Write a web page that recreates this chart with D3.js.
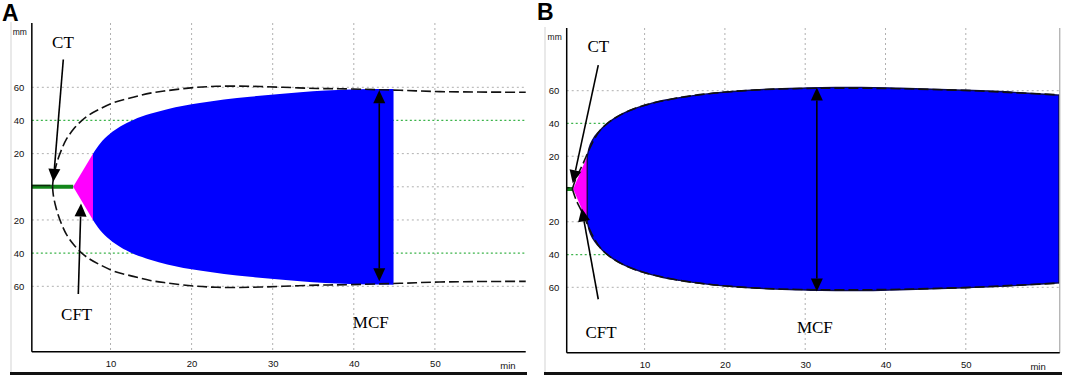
<!DOCTYPE html>
<html><head><meta charset="utf-8">
<script src="https://cdn.jsdelivr.net/npm/d3@7"></script>
<style>body{margin:0;background:#fff}svg{display:block}</style>
</head><body><svg id="c" width="1065" height="378"></svg>
<script>
// ---------- shared ticks ----------
const xTicks = [10, 20, 30, 40, 50];
const yTicks = [60, 40, 20, -20, -40, -60];
const gridGray = [60, 20, 0, -20, -60];
const gridGreen = [40, -40];

// ---------- Panel A data (time in min, amplitude in mm) ----------
const ctTimeA = [0.3, 5.4];            // flat line before clotting
const cftTimeA = [5.4, 7.84];
const cftAmpA = [0, 20];
const blueTimeA = [7.84, 8.7, 9.9, 11.2, 12.8, 14.9, 17.0, 21.0, 24.0, 27.2, 30.5, 33.4, 36.5, 39.5, 42.0, 44.9];
const blueAmpA  = [20, 26, 31.8, 36.3, 40.3, 44.0, 46.8, 50.5, 52.6, 54.3, 55.8, 57, 58, 58.6, 58.9, 59];
const envTimeA = [2.85, 2.95, 3.2, 3.55, 4.1, 4.6, 5.4, 6.35, 7.4, 8.7, 10.5, 12.8, 14.9, 17.0, 20.2, 23.1, 27.2, 31.3, 35.5, 39.5, 45.7, 50.6, 61.2];
const envAmpA  = [0, 5, 11, 17, 24, 29, 34.5, 39.5, 43.5, 47, 51, 54, 56.5, 58, 59.8, 60.6, 60.6, 60, 59.3, 59, 58.2, 57.4, 57];

// ---------- Panel B data ----------
const ctTimeB = [0.3, 1.1];
const cftTimeB = [1.1, 2.86];
const cftAmpB = [0, 20];
const blueTimeB = [2.86, 3.1, 3.6, 4.3, 5.3, 6.2, 7.35, 8.7, 10.3, 12.3, 14.4, 16.5, 18.6, 20.6, 25.0, 29.3, 32.0, 37.0, 41.8, 49.7, 56.0, 61.6];
const blueAmpB  = [20, 25, 30.5, 35, 39.8, 43, 46.2, 49, 51.5, 54, 55.8, 57.3, 58.5, 59.4, 60.8, 61.5, 61.9, 62, 61.5, 60.3, 59, 57.3];
const envTimeB = [1.0, 1.5, 2.2, 3.0, 3.8, 4.5, 5.3, 6.2, 7.4, 8.7, 10.3, 14.4, 18.6, 24.0, 29.3, 35.0, 41.8, 49.7, 56.0, 61.6];
const envAmpB  = [0, 7, 14, 23, 31, 36, 39.8, 43, 46.3, 49, 51.5, 55.8, 58.5, 60.5, 61.3, 61.6, 61.2, 60.2, 58.8, 57.5];

// ---------- annotations (data coords: [time, mm]) ----------
const annA = {
  ct:  {label:[4.14, 83.5], from:[4.18, 76.8], to:[2.95, 3.0]},
  cft: {label:[5.83, -80.2], from:[6.03, -64.6], to:[6.36, -10.1]},
  mcf: {label:[42.1, -85.3], x:43.14, top:58.2, bottom:-57}
};
const annB = {
  ct:  {label:[4.23, 83.4], from:[4.23, 75.6], to:[1.05, 3.5]},
  cft: {label:[4.57, -91.2], from:[4.23, -67.3], to:[2.17, -11.8]},
  mcf: {label:[31.2, -88.1], x:31.45, top:61.9, bottom:-62.6}
};

const panels = [
  {name:'A', nameX:2, nameY:21, xr:[29.4, 516], yr:[286.3, 87.3], tMin:0.3, tMax:61.2, top:23, bottom:351.7,
   frameL:11, frameR:527, rightLine:false,
   ct:ctTimeA, cftT:cftTimeA, cftA:cftAmpA, bT:blueTimeA, bA:blueAmpA, eT:envTimeA, eA:envAmpA, ann:annA, outline:false},
  {name:'B', nameX:537, nameY:20, xr:[564.3, 1046.1], yr:[287.3, 90.7], tMin:0.3, tMax:61.7, top:28, bottom:352.7,
   frameL:545, frameR:1062, rightLine:true,
   ct:ctTimeB, cftT:cftTimeB, cftA:cftAmpB, bT:blueTimeB, bA:blueAmpB, eT:envTimeB, eA:envAmpB, ann:annB, outline:true}
];

const svg = d3.select('#c');
const SANS = 'Liberation Sans, Arial, sans-serif';
const SERIF = 'Liberation Serif, Times New Roman, serif';

function arrowHead(g, x1, y1, x2, y2, len=13, hw=6) {
  const dx = x2 - x1, dy = y2 - y1, L = Math.hypot(dx, dy), ux = dx / L, uy = dy / L;
  const bx = x2 - ux * len, by = y2 - uy * len;
  g.append('path').attr('d', `M${x2},${y2}L${bx - uy*hw},${by + ux*hw}L${bx + uy*hw},${by - ux*hw}Z`).attr('fill', '#000');
  return [bx, by];
}
function arrow(g, x1, y1, x2, y2) {
  const [bx, by] = arrowHead(g, x1, y1, x2, y2);
  g.append('line').attr('x1', x1).attr('y1', y1).attr('x2', bx).attr('y2', by).attr('stroke', '#000').attr('stroke-width', 1.6);
}

panels.forEach(p => {
  const x = d3.scaleLinear().domain([0, 60]).range(p.xr);
  const y = d3.scaleLinear().domain([-60, 60]).range(p.yr);
  const g = svg.append('g');
  const left = x(p.tMin), right = x(p.tMax);

  // frame
  g.append('line').attr('x1', p.frameL).attr('x2', p.frameL).attr('y1', p.top - 1).attr('y2', 372).attr('stroke', '#e2e2e2').attr('stroke-width', 1.5);
  g.append('line').attr('x1', p.frameL - 1).attr('x2', p.frameR).attr('y1', 373.5).attr('y2', 373.5).attr('stroke', '#111').attr('stroke-width', 3);

  // grid
  g.selectAll('.vg').data(xTicks).join('line')
    .attr('x1', d => x(d)).attr('x2', d => x(d)).attr('y1', p.top).attr('y2', p.bottom)
    .attr('stroke', '#b0b0b0').attr('stroke-width', 1).attr('stroke-dasharray', '2,3');
  g.selectAll('.hg').data(gridGray).join('line')
    .attr('x1', left).attr('x2', right).attr('y1', d => y(d)).attr('y2', d => y(d))
    .attr('stroke', '#b0b0b0').attr('stroke-width', 1).attr('stroke-dasharray', '2,3');
  g.selectAll('.hgg').data(gridGreen).join('line')
    .attr('x1', left).attr('x2', right).attr('y1', d => y(d)).attr('y2', d => y(d))
    .attr('stroke', '#3cb44b').attr('stroke-width', 1.2).attr('stroke-dasharray', '2,2.5');

  // green baseline (CT)
  g.append('line').attr('x1', x(p.ct[0])).attr('x2', x(p.ct[1])).attr('y1', y(0)).attr('y2', y(0))
    .attr('stroke', '#13861a').attr('stroke-width', 4);
  g.append('line').attr('x1', x(p.ct[0])).attr('x2', x(p.ct[0] + (p.ct[1]-p.ct[0])*0.45)).attr('y1', y(0) - 1.3).attr('y2', y(0) - 1.3)
    .attr('stroke', '#0b2a0b').attr('stroke-width', 1.5);

  // CFT magenta
  const cftData = p.cftT.map((t, i) => ({t, a: p.cftA[i]}));
  g.append('path').datum(cftData)
    .attr('d', d3.area().x(d => x(d.t)).y0(d => y(-d.a)).y1(d => y(d.a)))
    .attr('fill', '#ff00ff');

  // blue clot
  const blueData = p.bT.map((t, i) => ({t, a: p.bA[i]}));
  g.append('path').datum(blueData)
    .attr('d', d3.area().curve(d3.curveMonotoneX).x(d => x(d.t)).y0(d => y(-d.a)).y1(d => y(d.a)))
    .attr('fill', '#0000ff')
    .attr('stroke', p.outline ? '#0a0a55' : 'none').attr('stroke-width', p.outline ? 1.4 : 0);

  // dashed envelope
  const envData = p.eT.map((t, i) => ({t, a: p.eA[i]}));
  [1, -1].forEach(s => {
    g.append('path').datum(envData)
      .attr('d', d3.line().curve(d3.curveCatmullRom.alpha(0.5)).x(d => x(d.t)).y(d => y(s * d.a)))
      .attr('fill', 'none').attr('stroke', '#111').attr('stroke-width', 1.6).attr('stroke-dasharray', '10,4');
  });

  // right light border (B)
  if (p.rightLine) g.append('line').attr('x1', right).attr('x2', right).attr('y1', p.top).attr('y2', p.bottom).attr('stroke', '#aaa').attr('stroke-width', 1.2);

  // axes lines
  g.append('line').attr('x1', left).attr('x2', left).attr('y1', p.top).attr('y2', p.bottom).attr('stroke', '#000').attr('stroke-width', 1.5);
  g.append('line').attr('x1', left).attr('x2', right).attr('y1', p.bottom).attr('y2', p.bottom).attr('stroke', '#000').attr('stroke-width', 1.5);

  // tick labels via d3 axes
  const ya = g.append('g').attr('transform', `translate(${left},0)`)
    .call(d3.axisLeft(y).tickValues(yTicks).tickSize(0).tickPadding(7.5).tickFormat(d => Math.abs(d)));
  ya.select('.domain').remove();
  ya.selectAll('text').attr('font-family', SANS).attr('font-size', 9.5).attr('fill', '#111');
  const xa = g.append('g').attr('transform', `translate(0,${p.bottom})`)
    .call(d3.axisBottom(x).tickValues(xTicks).tickSize(0).tickPadding(9).tickFormat(d3.format('d')));
  xa.select('.domain').remove();
  xa.selectAll('text').attr('font-family', SANS).attr('font-size', 9.5).attr('fill', '#111');
  g.append('text').attr('x', x(59)).attr('y', p.bottom + 17.5).attr('text-anchor', 'middle')
    .attr('font-family', SANS).attr('font-size', 9.5).attr('fill', '#111').text('min');
  g.append('text').attr('x', left - 12).attr('y', p.top + 12).attr('text-anchor', 'middle')
    .attr('font-family', SANS).attr('font-size', 8.5).attr('fill', '#111').text('mm');

  // annotations
  const a = p.ann;
  const lbl = (pos, txt) => g.append('text').attr('x', x(pos[0])).attr('y', y(pos[1])).attr('text-anchor', 'middle')
    .attr('font-family', SERIF).attr('font-size', 17).attr('fill', '#000').text(txt);
  lbl(a.ct.label, 'CT');
  lbl(a.cft.label, 'CFT');
  lbl(a.mcf.label, 'MCF');
  arrow(g, x(a.ct.from[0]), y(a.ct.from[1]), x(a.ct.to[0]), y(a.ct.to[1]));
  arrow(g, x(a.cft.from[0]), y(a.cft.from[1]), x(a.cft.to[0]), y(a.cft.to[1]));
  const mx = x(a.mcf.x);
  const [, bt] = arrowHead(g, mx, y(a.mcf.bottom), mx, y(a.mcf.top));
  const [, bb] = arrowHead(g, mx, y(a.mcf.top), mx, y(a.mcf.bottom));
  g.append('line').attr('x1', mx).attr('x2', mx).attr('y1', bt).attr('y2', bb).attr('stroke', '#000').attr('stroke-width', 1.6);

  // panel letter
  svg.append('text').attr('x', p.nameX).attr('y', p.nameY).attr('font-family', SANS).attr('font-weight', 'bold')
    .attr('font-size', 23).attr('fill', '#000').text(p.name);
});
</script></body></html>
